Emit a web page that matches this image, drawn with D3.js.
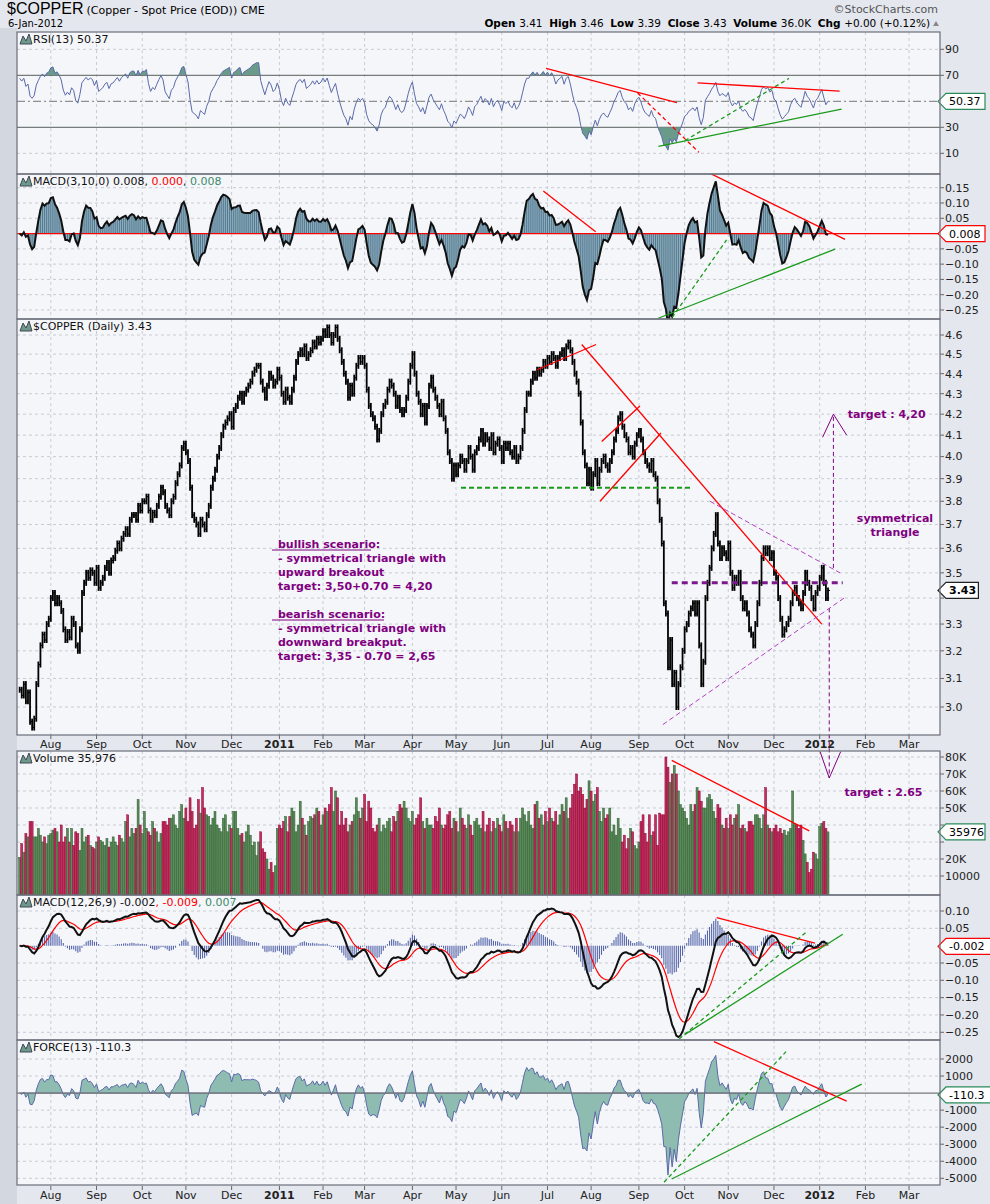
<!DOCTYPE html>
<html><head><meta charset="utf-8">
<script src="https://cdn.jsdelivr.net/npm/d3@7"></script>
<style>body{margin:0;background:#e4e7ee;}svg{display:block;font-family:"DejaVu Sans",Verdana,sans-serif;}</style>
</head><body><svg id="c" width="990" height="1204"></svg>
<script>
// ---- data (daily, ending 6-Jan-2012) ----
const closes = [
3.06,3.04,3.08,3.02,3.05, 2.95,2.93,2.96,3.08,3.15, 3.22,3.26,3.24,3.30,3.32, 3.40,3.42,3.38,3.40,3.38,
3.35,3.28,3.24,3.27,3.25, 3.32,3.30,3.22,3.20,3.28, 3.42,3.46,3.50,3.48,3.51, 3.50,3.46,3.52,3.44,3.46,
3.48,3.52,3.54,3.50,3.55, 3.56,3.59,3.62,3.60,3.64, 3.66,3.68,3.66,3.72,3.74, 3.74,3.72,3.78,3.76,3.80,
3.80,3.82,3.76,3.72,3.75, 3.74,3.78,3.82,3.86,3.84, 3.78,3.76,3.74,3.80,3.82, 3.88,3.92,3.96,4.04,4.06,
4.02,3.98,3.86,3.74,3.72, 3.70,3.66,3.72,3.70,3.68, 3.74,3.78,3.86,3.90,3.94, 4.00,4.04,4.10,4.14,4.16,
4.18,4.20,4.14,4.22,4.24, 4.28,4.30,4.26,4.30,4.32, 4.34,4.36,4.40,4.42,4.44, 4.44,4.36,4.32,4.28,4.34,
4.40,4.38,4.34,4.36,4.42, 4.38,4.30,4.26,4.32,4.28, 4.26,4.32,4.38,4.46,4.50, 4.52,4.50,4.54,4.48,4.50,
4.52,4.56,4.54,4.58,4.56, 4.58,4.62,4.60,4.64,4.60, 4.56,4.60,4.64,4.58,4.52, 4.46,4.40,4.36,4.28,4.34,
4.30,4.38,4.44,4.48,4.46, 4.48,4.44,4.32,4.24,4.20, 4.18,4.14,4.08,4.12,4.20, 4.24,4.26,4.32,4.36,4.34,
4.30,4.24,4.28,4.22,4.20, 4.22,4.28,4.36,4.44,4.50, 4.40,4.30,4.26,4.20,4.24, 4.16,4.24,4.34,4.38,4.32,
4.28,4.24,4.20,4.26,4.18, 4.12,4.02,3.98,3.90,3.96, 3.92,3.96,4.00,3.98,3.94, 3.98,4.04,4.00,3.94,4.02,
4.04,4.08,4.12,4.06,4.10, 4.08,4.04,4.10,4.02,4.06, 4.08,4.04,3.98,4.06,4.04, 4.06,4.02,4.00,4.04,3.98,
4.00,4.04,4.12,4.22,4.30, 4.30,4.36,4.40,4.38,4.42, 4.40,4.42,4.46,4.44,4.48, 4.46,4.50,4.48,4.44,4.48,
4.50,4.52,4.48,4.54,4.56, 4.52,4.46,4.40,4.36,4.30, 4.16,4.02,3.96,3.88,3.94, 3.86,3.92,3.98,3.88,3.94,
3.98,4.00,3.96,3.94,3.98, 4.02,4.08,4.12,4.18,4.20, 4.14,4.10,4.08,4.02,4.04, 4.00,4.06,4.10,4.12,4.08,
4.02,3.98,3.96,3.94,3.98, 3.92,3.90,3.80,3.72,3.62, 3.38,3.34,3.14,3.24,3.08, 3.12,3.00,3.08,3.14,3.20,
3.28,3.30,3.34,3.36,3.38, 3.34,3.38,3.22,3.08,3.16, 3.40,3.46,3.52,3.60,3.66, 3.74,3.62,3.56,3.60,3.58,
3.56,3.62,3.50,3.44,3.48, 3.46,3.50,3.40,3.36,3.38, 3.34,3.28,3.26,3.22,3.30, 3.38,3.46,3.56,3.60,3.58,
3.60,3.56,3.58,3.50,3.48, 3.40,3.32,3.26,3.28,3.30, 3.32,3.38,3.42,3.44,3.40, 3.38,3.36,3.42,3.50,3.46,
3.44,3.40,3.36,3.42,3.44, 3.48,3.52,3.46,3.40,3.43];
const volumesK = [
21,29,24,35,33, 42,42,33,33,38, 34,30,33,29,34, 35,37,38,36,30, 40,30,33,38,30, 38,28,36,35,25,
38,30,33,34,28, 27,26,30,33,31, 30,28,32,27,30, 33,30,28,34,32, 30,42,46,33,38, 35,38,55,40,35,
48,38,36,34,42, 38,36,30,35,42, 42,40,44,44,46, 40,38,48,52,44, 50,42,56,48,38, 40,55,47,62,50,
46,45,40,44,48, 40,38,36,44,46, 36,40,38,48,48, 38,34,35,30,36, 40,34,28,30,22, 30,36,26,24,20,
14,18,12,16,38, 40,38,42,45,36, 45,50,48,36,40, 54,44,40,34,42, 45,44,46,50,48, 40,46,50,48,52,
62,48,60,56,40, 48,40,44,36,40, 42,46,56,48,44, 50,58,42,54,50, 38,36,40,44,36, 40,38,42,44,36,
45,42,48,52,50, 54,50,44,42,48, 40,44,46,56,42, 38,44,40,40,38, 45,42,50,40,38, 40,46,48,38,44,
42,36,50,44,40, 38,46,40,34,42, 44,40,38,48,36, 40,44,36,42,38, 44,40,36,46,42, 38,42,40,36,44,
36,44,50,46,42, 48,40,38,52,54, 44,46,40,48,42, 50,44,42,48,40, 46,52,48,56,44, 50,58,64,70,60,
62,58,50,55,66, 60,54,58,62,48, 42,50,44,46,50, 36,40,34,44,38, 30,34,26,32,38, 36,28,26,30,42,
46,35,30,46,34, 36,46,28,47,46, 46,80,74,65,70, 75,70,60,52,50, 48,44,40,52,48, 52,62,60,54,50,
50,56,58,55,48, 44,52,50,40,38, 44,38,46,40,44, 46,52,38,40,38, 36,42,42,40,46, 46,44,38,46,62,
40,38,36,38,40, 36,38,35,37,34, 36,38,60,41,40, 38,40,31,23,18, 12,14,24,23,20, 39,41,42,38,35.976];
const monthNames = ["Jan","Feb","Mar","Apr","May","Jun","Jul","Aug","Sep","Oct","Nov","Dec"];
const priceTicks = [3.0,3.1,3.2,3.3,3.4,3.5,3.6,3.7,3.8,3.9,4.0,4.1,4.2,4.3,4.4,4.5,4.6];
const rsiTicks = [10,30,70,90];
const macdFastTicks = [0.15,0.10,0.05,-0.05,-0.10,-0.15,-0.20,-0.25];
const volTicks = [10,20,30,40,50,60,70,80];
const macdTicks = [0.10,0.05,-0.05,-0.10,-0.15,-0.20,-0.25];
const forceTicks = [2000,1000,-1000,-2000,-3000,-4000,-5000];
// annotations: [barIndex, value]
const priceRed = [[[249,4.42],[277.4,4.55]],[[270.5,4.55],[386,3.30]],[[279.3,3.80],[308.6,4.11]],[[280.1,4.07],[298.5,4.24]]];
const priceGreenDash = [[212.4,3.86],[323.6,3.86]];
const triUpper = [[332.2,3.80],[394.8,3.50]], triLower = [[309.5,2.94],[396.7,3.40]];
const triMid = [[313.8,3.46],[396.1,3.46]];
const rsiLines = [{p:[[253.3,75.3],[316.3,49]],c:"red"},{p:[[297.4,56.4],[326.9,10.7]],c:"red",d:1},
  {p:[[307.4,15.3],[395.5,44]],c:"#1a9a1a"},{p:[[320.2,19.8],[370.2,67.6]],c:"#1a9a1a",d:1},{p:[[326.2,64.2],[394.6,57.8]],c:"red"}];
const macdFastLines = [{p:[[252,0.139],[277.2,0.006]],c:"red"},{p:[[329.8,0.205],[397.2,-0.019]],c:"red"},
  {p:[[312.1,-0.293],[340.2,-0.021]],c:"#1a9a1a",d:1},{p:[[307.3,-0.277],[392.4,-0.051]],c:"#1a9a1a"}];
const volLines = [{p:[[313.8,78],[380,36.5]],c:"red"}];
const macdLines = [{p:[[335.4,0.081],[382.7,0.007]],c:"red"},{p:[[317.4,-0.269],[378.7,0.040]],c:"#1a9a1a",d:1},{p:[[320.2,-0.256],[396.1,0.033]],c:"#1a9a1a"}];
const forceLines = [{p:[[334.1,3015],[398,-470]],c:"red"},{p:[[310.1,-5230],[368.8,2430]],c:"#1a9a1a",d:1},{p:[[313.8,-5040],[405.2,530]],c:"#1a9a1a"}];

// ---- derived series ----
const N = closes.length;
const dates = [];
{ let d = new Date(2012,0,6); while (dates.length<N){ if(d.getDay()%6!==0) dates.unshift(new Date(d)); d.setDate(d.getDate()-1);} }
const allDates = dates.slice();
{ let d = new Date(2012,0,7); while (allDates.length<N+60){ if(d.getDay()%6!==0) allDates.push(new Date(d)); d.setDate(d.getDate()+1);} }
function ema(a,n){const k=2/(n+1);let o=[],p=a[0];a.forEach((v,i)=>{p=i?v*k+p*(1-k):v;o.push(p)});return o;}
const rsi=[];{const ch=closes.map((c,i)=>i?c-closes[i-1]:0);
 let g=d3.mean(ch.slice(1,14),v=>Math.max(v,0)),l=d3.mean(ch.slice(1,14),v=>Math.max(-v,0));
 for(let i=0;i<N;i++){if(i>0){g=(g*12+Math.max(ch[i],0))/13;l=(l*12+Math.max(-ch[i],0))/13;} rsi.push(l===0?100:100-100/(1+g/l));}}
const e3=ema(closes,3),e10=ema(closes,10);const macdFast=closes.map((_,i)=>e3[i]-e10[i]);
const e12=ema(closes,12),e26=ema(closes,26);const macd=closes.map((_,i)=>e12[i]-e26[i]);const sig=ema(macd,9);
const fr=closes.map((c,i)=>i?(c-closes[i-1])*volumesK[i]*1000:0);const force=ema(fr,13);

// ---- scales ----
const svg=d3.select("#c");
const L=17,R=940;
const x=d3.scaleLinear().domain([0,N-1]).range([828-(N-1)*2.078,828]);
const P={
 rsi:{t:32,b:174,y:d3.scaleLinear().domain([10,90]).range([153.3,49.3])},
 mf:{t:174,b:319,y:d3.scaleLinear().domain([-0.25,0.15]).range([310,187.7])},
 pr:{t:319,b:735,y:d3.scaleLog().domain([3.0,4.6]).range([707,335])},
 vol:{t:751,b:895,y:d3.scaleLinear().domain([10,80]).range([876,757])},
 md:{t:895,b:1040,y:d3.scaleLinear().domain([-0.25,0.10]).range([1032.3,911])},
 fo:{t:1040,b:1185,y:d3.scaleLinear().domain([-5000,2000]).range([1178.3,1059])}
};
const defs=svg.append("defs");
svg.append("rect").attr("x",0).attr("y",28).attr("width",L).attr("height",1176).attr("fill","#d3d7e0");
Object.entries(P).forEach(([k,p])=>{
 defs.append("clipPath").attr("id","cl"+k).append("rect").attr("x",L).attr("y",p.t).attr("width",R-L).attr("height",p.b-p.t);
 svg.append("rect").attr("x",L).attr("y",p.t).attr("width",R-L).attr("height",p.b-p.t).attr("fill","#f5f6fa");
 p.g=svg.append("g").attr("clip-path",`url(#cl${k})`);
});
const monthIdx=[];allDates.forEach((d,i)=>{if(i>0&&d.getMonth()!==allDates[i-1].getMonth())monthIdx.push(i)});
const xi=i=>x(i);
Object.values(P).forEach(p=>{
 p.g.selectAll(null).data(monthIdx).join("line").attr("x1",xi).attr("x2",xi).attr("y1",p.t).attr("y2",p.b)
  .attr("stroke","#c8cbd3").attr("stroke-dasharray","3,3");
});
function hgrid(p,vals){p.g.selectAll(null).data(vals).join("line").attr("x1",L).attr("x2",R).attr("y1",d=>p.y(d)).attr("y2",d=>p.y(d)).attr("stroke","#c8cbd3").attr("stroke-dasharray","3,3");}
function ylabels(p,vals,fmt,avoid){
 svg.selectAll(null).data(vals.filter(d=>avoid===undefined||Math.abs(p.y(d)-avoid)>12)).join("text").attr("x",945).attr("y",d=>p.y(d)).attr("dy","0.35em")
 .attr("font-size",11).attr("fill","#222").text(fmt);
 svg.selectAll(null).data(vals).join("line").attr("x1",R).attr("x2",R+4).attr("y1",d=>p.y(d)).attr("y2",d=>p.y(d)).attr("stroke","#666");}
function tlines(p,arr){arr.forEach(a=>p.g.append("line").attr("x1",x(a.p[0][0])).attr("y1",p.y(a.p[0][1])).attr("x2",x(a.p[1][0])).attr("y2",p.y(a.p[1][1]))
 .attr("stroke",a.c).attr("stroke-width",1.3).attr("stroke-dasharray",a.d?"4,3":null));}
function tag(y,txt,border,bold){const g=svg.append("g");const w=txt.length*6.6+6;
 g.append("path").attr("d",`M${R-2},${y} L${R+6},${y-8} H${R+6+w} V${y+8} H${R+6} Z`).attr("fill","#fff").attr("stroke",border).attr("stroke-width",1.2);
 g.append("text").attr("x",R+9).attr("y",y).attr("dy","0.36em").attr("font-size",11).attr("font-weight",bold?"bold":null).text(txt);}
function legend(p,parts){const t=svg.append("text").attr("x",33).attr("y",p.t+11).attr("font-size",11);
 parts.forEach(([s,c])=>t.append("tspan").attr("fill",c||"#111").text(s));
 svg.append("path").attr("d",`M20,${p.t+12} l3,-8 l3,5 l3,-7 l3,10 z`).attr("fill","#6a9a8a").attr("stroke","#445");}

// ---- RSI ----
{const p=P.rsi;hgrid(p,[10,90]);
 [70,30].forEach(v=>p.g.append("line").attr("x1",L).attr("x2",R).attr("y1",p.y(v)).attr("y2",p.y(v)).attr("stroke","#777").attr("stroke-width",1.2));
 p.g.append("line").attr("x1",L).attr("x2",R).attr("y1",p.y(50)).attr("y2",p.y(50)).attr("stroke","#777").attr("stroke-dasharray","8,3,2,3");
 const ln=d3.line().x((d,i)=>x(i)).y(d=>p.y(d));
 defs.append("clipPath").attr("id","rhi").append("rect").attr("x",L).attr("y",p.t).attr("width",R-L).attr("height",p.y(70)-p.t);
 defs.append("clipPath").attr("id","rlo").append("rect").attr("x",L).attr("y",p.y(30)).attr("width",R-L).attr("height",p.b-p.y(30));
 p.g.append("path").attr("clip-path","url(#rhi)").attr("d",d3.area().x((d,i)=>x(i)).y0(p.y(70)).y1(d=>p.y(d))(rsi)).attr("fill","#6a9a8a");
 p.g.append("path").attr("clip-path","url(#rlo)").attr("d",d3.area().x((d,i)=>x(i)).y0(p.y(30)).y1(d=>p.y(d))(rsi)).attr("fill","#6a9a8a");
 p.g.append("path").attr("d",ln(rsi)).attr("fill","none").attr("stroke","#5a6aa8").attr("stroke-width",1);
 tlines(p,rsiLines);ylabels(p,rsiTicks,d=>d);tag(p.y(50),"50.37","#2a8a5a");
 legend(p,[["RSI(13) 50.37"]]);}
// ---- MACD(3,10,0) ----
{const p=P.mf;hgrid(p,[0.15,0.10,0.05,-0.05,-0.10,-0.15,-0.20,-0.25]);
 p.g.append("path").attr("d",d3.area().x((d,i)=>x(i)).y0(p.y(0)).y1(d=>p.y(d))(macdFast)).attr("fill","#8ab8a6");
 p.g.selectAll(null).data(macdFast).join("line").attr("x1",(d,i)=>x(i)).attr("x2",(d,i)=>x(i)).attr("y1",p.y(0)).attr("y2",d=>p.y(d)).attr("stroke","#5566aa").attr("stroke-width",0.9);
 p.g.append("line").attr("x1",L).attr("x2",R).attr("y1",p.y(0)).attr("y2",p.y(0)).attr("stroke","red").attr("stroke-width",1.3);
 p.g.append("path").attr("d",d3.line().x((d,i)=>x(i)).y(d=>p.y(d))(macdFast)).attr("fill","none").attr("stroke","#111").attr("stroke-width",2);
 tlines(p,macdFastLines);ylabels(p,macdFastTicks,d3.format(".2f"),p.y(0));tag(p.y(0),"0.008","red");
 legend(p,[["MACD(3,10,0) 0.008, "],["0.000","red"],[", "],["0.008","#3a8a6a"]]);}
// ---- Price ----
{const p=P.pr;hgrid(p,priceTicks);
 const bars=closes.map((c,i)=>({i,c,o:i?closes[i-1]:c}));
 p.g.selectAll(null).data(bars).join("line").attr("x1",d=>x(d.i)).attr("x2",d=>x(d.i)).attr("y1",d=>p.y(Math.max(d.o,d.c))-3).attr("y2",d=>p.y(Math.min(d.o,d.c))+3)
  .attr("stroke","#000").attr("stroke-width",1.8);
 p.g.selectAll(null).data(bars).join("line").attr("x1",d=>x(d.i)).attr("x2",d=>x(d.i)+2).attr("y1",d=>p.y(d.c)).attr("y2",d=>p.y(d.c)).attr("stroke","#000");
 tlines(p,priceRed.map(q=>({p:q,c:"red"})));
 p.g.append("line").attr("x1",x(priceGreenDash[0][0])).attr("x2",x(priceGreenDash[1][0])).attr("y1",p.y(3.86)).attr("y2",p.y(3.86)).attr("stroke","#1a9a1a").attr("stroke-width",2).attr("stroke-dasharray","5,3");
 [triUpper,triLower].forEach(q=>p.g.append("line").attr("x1",x(q[0][0])).attr("y1",p.y(q[0][1])).attr("x2",x(q[1][0])).attr("y2",p.y(q[1][1])).attr("stroke","#b040c0").attr("stroke-dasharray","5,3"));
 p.g.append("line").attr("x1",x(triMid[0][0])).attr("x2",x(triMid[1][0])).attr("y1",p.y(3.46)).attr("y2",p.y(3.46)).attr("stroke","#7a1a8a").attr("stroke-width",3).attr("stroke-dasharray","6,4");
 const pu="#800080";
 svg.append("line").attr("x1",x(391.6)).attr("x2",x(391.6)).attr("y1",p.y(3.52)).attr("y2",p.y(4.2)).attr("stroke",pu).attr("stroke-dasharray","4,3");
 svg.append("path").attr("d",`M${x(386.4)},${p.y(4.09)} L${x(391.6)},${p.y(4.2)} L${x(398)},${p.y(4.10)}`).attr("fill","none").attr("stroke",pu);
 svg.append("line").attr("x1",x(389.6)).attr("x2",x(389.6)).attr("y1",p.y(3.36)).attr("y2",p.y(2.765)).attr("stroke",pu).attr("stroke-dasharray","4,3");
 svg.append("path").attr("d",`M${x(385.2)},${p.y(2.85)} L${x(389.6)},${p.y(2.765)} L${x(395.1)},${p.y(2.85)}`).attr("fill","none").attr("stroke",pu);
 const bt=(tx,xx,yy,anchor)=>svg.append("text").attr("x",xx).attr("y",yy).attr("font-size",11).attr("font-weight","bold").attr("fill",pu).attr("text-anchor",anchor||"start").text(tx);
 bt("target : 4,20",x(398)+1,p.y(4.2)+4);bt("target : 2.65",x(397),p.y(2.72)+4);
 bt("symmetrical",895,522,"middle");bt("triangle",895,536,"middle");
 const sx=278;
 [["bullish scenario:",548],["- symmetrical triangle with",562],["upward breakout",576],["target: 3,50+0.70 = 4,20",590],
  ["bearish scenario:",618],["- symmetrical triangle with",632],["downward breakput.",646],["target: 3,35 - 0.70 = 2,65",660]].forEach(([t,yy])=>bt(t,sx,yy));
 svg.append("line").attr("x1",272).attr("x2",371).attr("y1",550).attr("y2",550).attr("stroke",pu);
 svg.append("line").attr("x1",272).attr("x2",384).attr("y1",620).attr("y2",620).attr("stroke",pu);
 ylabels(p,priceTicks,d3.format(".1f"),p.y(3.43));tag(p.y(3.43),"3.43","#222",true);
 legend(p,[["$COPPER (Daily) 3.43"]]);}
// ---- Volume ----
{const p=P.vol;hgrid(p,volTicks);
 p.g.selectAll(null).data(volumesK).join("rect").attr("x",(d,i)=>x(i)-1).attr("width",2).attr("y",d=>p.y(d)).attr("height",d=>p.b-p.y(d))
  .attr("fill",(d,i)=>i&&closes[i]<closes[i-1]?"#c0305e":"#5a8a5a").attr("stroke",(d,i)=>i&&closes[i]<closes[i-1]?"#900030":"#2f5f2f").attr("stroke-width",0.5);
 tlines(p,volLines);ylabels(p,volTicks,d=>d===10?"10000":d+"K",p.y(35.976));tag(p.y(35.976),"35976","#2a8a5a");
 legend(p,[["Volume 35,976"]]);}
// ---- MACD(12,26,9) ----
{const p=P.md;hgrid(p,macdTicks);
 p.g.selectAll(null).data(macd).join("line").attr("x1",(d,i)=>x(i)).attr("x2",(d,i)=>x(i)).attr("y1",p.y(0)).attr("y2",(d,i)=>p.y(d-sig[i])).attr("stroke","#5566aa").attr("stroke-width",1.1);
 p.g.append("path").attr("d",d3.line().x((d,i)=>x(i)).y(d=>p.y(d))(sig)).attr("fill","none").attr("stroke","red").attr("stroke-width",1.2);
 p.g.append("path").attr("d",d3.line().x((d,i)=>x(i)).y(d=>p.y(d))(macd)).attr("fill","none").attr("stroke","#111").attr("stroke-width",2);
 tlines(p,macdLines);ylabels(p,macdTicks,d3.format(".2f"));tag(p.y(-0.002),"-0.002","red");
 legend(p,[["MACD(12,26,9) -0.002"],[", -0.009","red"],[", 0.007","#3a8a6a"]]);}
// ---- Force ----
{const p=P.fo;hgrid(p,forceTicks);
 p.g.append("path").attr("d",d3.area().x((d,i)=>x(i)).y0(p.y(0)).y1(d=>p.y(d))(force)).attr("fill","#8fbcb0").attr("stroke","#5a6aa8").attr("stroke-width",1);
 p.g.append("line").attr("x1",L).attr("x2",R).attr("y1",p.y(0)).attr("y2",p.y(0)).attr("stroke","#777").attr("stroke-width",1.2);
 tlines(p,forceLines);ylabels(p,forceTicks,d=>d);tag(p.y(-110.3),"-110.3","#2a8a5a");
 legend(p,[["FORCE(13) -110.3"]]);}
Object.values(P).forEach(p=>svg.append("rect").attr("x",L).attr("y",p.t).attr("width",R-L).attr("height",p.b-p.t).attr("fill","none").attr("stroke","#6a6e78").attr("stroke-width",1.2));
[[P.pr.b+13],[P.fo.b+14]].forEach(([yy])=>{
 svg.selectAll(null).data(monthIdx.filter(i=>x(i)<R-5)).join("text").attr("x",xi).attr("y",yy).attr("text-anchor","middle").attr("font-size",11)
  .attr("font-weight",i=>allDates[i].getMonth()===0?"bold":null).attr("fill","#222")
  .text(i=>allDates[i].getMonth()===0?allDates[i].getFullYear():monthNames[allDates[i].getMonth()]);
 svg.selectAll(null).data(monthIdx).join("line").attr("x1",xi).attr("x2",xi).attr("y1",yy-13).attr("y2",yy-9).attr("stroke","#666");
});
const h=svg.append("text").attr("x",7).attr("y",14);
h.append("tspan").attr("font-size",16).attr("font-family","Liberation Sans, Arial").text("$COPPER");
h.append("tspan").attr("font-size",11).attr("dx",3).text("(Copper - Spot Price (EOD)) CME");
svg.append("text").attr("x",8).attr("y",27).attr("font-size",10).text("6-Jan-2012");
svg.append("text").attr("x",938).attr("y",13).attr("text-anchor","end").attr("font-size",11).attr("fill","#555").text("©StockCharts.com");
const q=svg.append("text").attr("x",930).attr("y",27).attr("text-anchor","end").attr("font-size",10.5);
[["Open ",1],["3.41  "],["High ",1],["3.46  "],["Low ",1],["3.39  "],["Close ",1],["3.43  "],["Volume ",1],["36.0K  "],["Chg ",1],["+0.00 (+0.12%)"]]
 .forEach(([t,b])=>q.append("tspan").attr("font-weight",b?"bold":null).attr("xml:space","preserve").text(t));
svg.append("path").attr("d","M933,26 l3,-5 l3,5 z").attr("fill","#888");
</script></body></html>
